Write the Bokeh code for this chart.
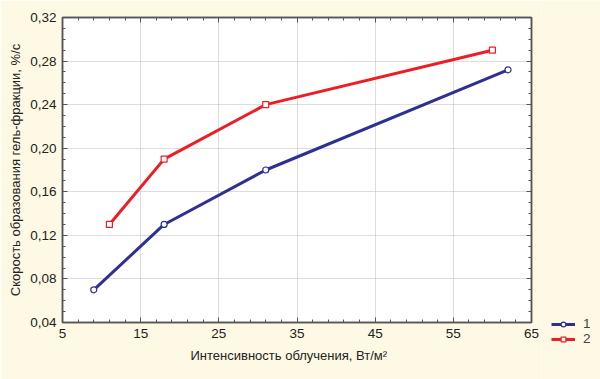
from bokeh.plotting import figure
from bokeh.layouts import row
from bokeh.models import (FixedTicker, LinearAxis, Legend, LegendItem, Range1d,
                          CustomJSTickFormatter, Title)
from bokeh.embed import file_html
from bokeh.resources import INLINE

# Data
x1 = [9, 18, 31, 62]
y1 = [0.07, 0.13, 0.18, 0.272]
x2 = [11, 18, 31, 60]
y2 = [0.13, 0.19, 0.24, 0.29]
series_names = ["1", "2"]
x_ticks = [5, 15, 25, 35, 45, 55, 65]
y_ticks = [0.04, 0.08, 0.12, 0.16, 0.20, 0.24, 0.28, 0.32]
y_tick_labels = ["0,04", "0,08", "0,12", "0,16", "0,20", "0,24", "0,28", "0,32"]
x_label = "Интенсивность облучения, Вт/м²"
y_label = "Скорость образования гель-фракции, %/с"

BG = "#FEF9E4"
BLUE = "#2E3192"
RED = "#EE1C25"
FONT = "Liberation Sans"
TICK_FS = "13.5px"

p = figure(width=541, height=379, output_backend="svg", toolbar_location=None,
           x_range=Range1d(5, 65), y_range=Range1d(0.04, 0.32),
           y_axis_label=y_label,
           min_border_left=62, min_border_right=10, min_border_top=17, min_border_bottom=57)
p.background_fill_color = "white"
p.border_fill_color = BG
p.outline_line_color = "#555555"
p.outline_line_width = 1.5

minor_x = [v for v in range(5, 66) if (v - 5) % 2 == 0 and (v - 5) % 10 != 0]
minor_y = [round(0.04 + i * 0.01, 2) for i in range(29) if i % 4 != 0]

def style_axis(ax, labels=True):
    ax.axis_line_color = "#555555"
    ax.axis_line_width = 1.5
    ax.major_tick_in = 5
    ax.major_tick_out = 0
    ax.minor_tick_in = 3
    ax.minor_tick_out = 0
    ax.major_tick_line_color = "#555555"
    ax.minor_tick_line_color = "#555555"
    ax.major_label_text_font = FONT
    ax.major_label_text_font_size = TICK_FS
    ax.major_label_text_color = "#222222"
    ax.axis_label_text_font = FONT
    ax.axis_label_text_font_size = "13px"
    ax.axis_label_text_font_style = "normal"
    ax.axis_label_text_color = "#222222"
    if not labels:
        ax.formatter = CustomJSTickFormatter(code="return ''")
        ax.major_label_standoff = 0

xa = p.xaxis[0]
xa.ticker = FixedTicker(ticks=x_ticks, minor_ticks=minor_x)
style_axis(xa)
xa.major_label_standoff = 6

ya = p.yaxis[0]
ya.ticker = FixedTicker(ticks=y_ticks, minor_ticks=minor_y)
ya.major_label_overrides = {t: l for t, l in zip(y_ticks, y_tick_labels)}
style_axis(ya)
ya.major_label_standoff = 6
ya.axis_label_standoff = 4

top = LinearAxis(ticker=FixedTicker(ticks=x_ticks, minor_ticks=minor_x))
style_axis(top, labels=False)
p.add_layout(top, "above")
right = LinearAxis(ticker=FixedTicker(ticks=y_ticks, minor_ticks=minor_y))
style_axis(right, labels=False)
p.add_layout(right, "right")

# x-axis caption, set slightly left of centre as in the reference
xt = Title(text=x_label, align="left", offset=128, text_font=FONT,
           text_font_size="13px", text_font_style="normal", text_color="#222222",
           standoff=11)
p.add_layout(xt, "below")

p.grid.grid_line_color = "#BBBBBB"
p.grid.grid_line_dash = "1 1"
p.grid.grid_line_width = 1
p.xgrid.ticker = FixedTicker(ticks=x_ticks)
p.ygrid.ticker = FixedTicker(ticks=y_ticks)

p.line(x1, y1, line_color=BLUE, line_width=3)
p.scatter(x1, y1, marker="circle", size=6, line_color=BLUE, fill_color="white", line_width=1.2)
p.line(x2, y2, line_color=RED, line_width=3)
p.scatter(x2, y2, marker="square", size=6, line_color=RED, fill_color="white", line_width=1.2)

# Legend panel: a separate figure to the right; its renderers use the same
# data, which lies outside this panel's ranges, so only the legend shows.
lf = figure(width=59, height=379, output_backend="svg", toolbar_location=None,
            x_range=Range1d(-2, -1), y_range=Range1d(-2, -1),
            min_border=0, x_axis_type=None, y_axis_type=None)
lf.frame_align = False
lf.background_fill_color = BG
lf.border_fill_color = BG
lf.outline_line_color = None
lf.grid.visible = False
ll1 = lf.line(x1, y1, line_color=BLUE, line_width=3)
lm1 = lf.scatter(x1, y1, marker="circle", size=6, line_color=BLUE, fill_color="white", line_width=1.2)
ll2 = lf.line(x2, y2, line_color=RED, line_width=3)
lm2 = lf.scatter(x2, y2, marker="square", size=6, line_color=RED, fill_color="white", line_width=1.2)

legend = Legend(items=[LegendItem(label=series_names[0], renderers=[ll1, lm1]),
                       LegendItem(label=series_names[1], renderers=[ll2, lm2])],
                location=(10, 33), background_fill_alpha=0, border_line_alpha=0,
                label_text_font=FONT, label_text_font_size=TICK_FS, glyph_width=24,
                glyph_height=12, spacing=-2, padding=0, margin=0,
                label_height=12, label_standoff=8)
lf.add_layout(legend, "center")

layout = row(p, lf, spacing=0)
open("out.html", "w").write(file_html(layout, INLINE))
